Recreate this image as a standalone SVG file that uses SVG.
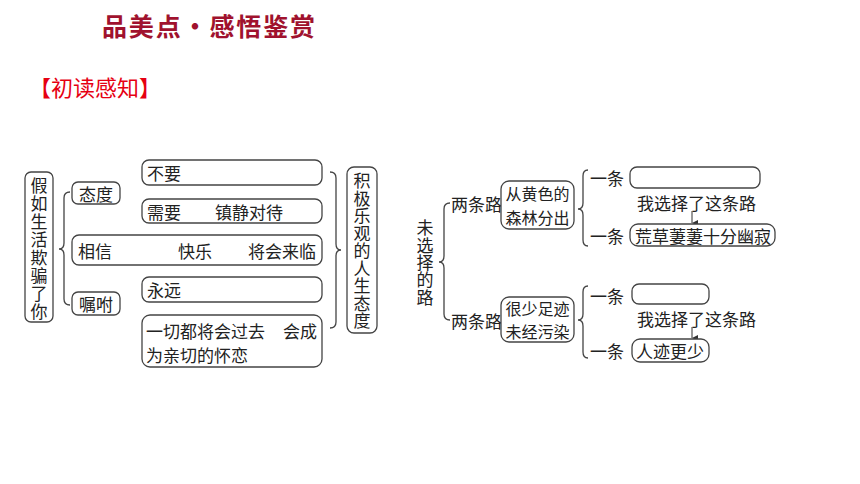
<svg xmlns="http://www.w3.org/2000/svg" width="860" height="484" viewBox="0 0 860 484">
<defs>
<style>
.t{font-family:"Noto Sans CJK SC","Liberation Sans",sans-serif;font-size:17px;fill:#222;dominant-baseline:central}
.s{font-size:16px}
.tm{text-anchor:middle}
.v{writing-mode:vertical-rl;text-anchor:start}
.b{fill:#fff;stroke:#444;stroke-width:1.3}
.c{fill:none;stroke:#444;stroke-width:1.3}
</style>
<marker id="ah" viewBox="0 0 6 6" refX="3" refY="6" markerWidth="6" markerHeight="6" orient="auto-start-reverse" markerUnits="userSpaceOnUse">
<path d="M0,0 L6,0 L3,6 Z" fill="#333"/>
</marker>
</defs>
<rect width="860" height="484" fill="#fff"/>
<text x="102" y="36" font-family="'Noto Sans CJK SC',sans-serif" font-size="25" font-weight="bold" fill="#A0122E" textLength="213">品美点·感悟鉴赏</text>
<text x="29" y="96" font-family="'Noto Sans CJK SC',sans-serif" font-size="22" fill="#E60012">【初读感知】</text>

<g id="connectors">
<path class="c" d="M70,192 Q64,192 64,198 L64,243 Q64,249 59,249 Q64,249 64,255 L64,299 Q64,305 70,305"/>
<path class="c" d="M330,172 Q336,172 336,178 L336,244 Q336,250 341,250 Q336,250 336,256 L336,322 Q336,328 330,328"/>
<path class="c" d="M450,203 Q444,203 444,209 L444,256 Q444,262 439,262 Q444,262 444,268 L444,314 Q444,320 450,320"/>
<path class="c" d="M588,170 Q583,170 583,176 L583,203 Q583,209 578,209 Q583,209 583,215 L583,240 Q583,246 588,246"/>
<path class="c" d="M588,286 Q583,286 583,292 L583,314 Q583,320 578,320 Q583,320 583,326 L583,352 Q583,358 588,358"/>
<line x1="692" y1="211" x2="692" y2="223" stroke="#333" stroke-width="1" marker-end="url(#ah)"/>
<line x1="692" y1="327" x2="692" y2="338" stroke="#333" stroke-width="1" marker-end="url(#ah)"/>
</g>

<g id="n-jiaru">
<rect class="b" x="25" y="172" width="28" height="150" rx="6"/>
<text class="t v" x="39" y="177" letter-spacing="1">假如生活欺骗了你</text>
</g>
<g id="n-taidu"><rect class="b" x="72" y="182" width="48" height="22" rx="6"/><text class="t tm" x="96" y="193">态度</text></g>
<g id="n-xiangxin"><rect class="b" x="72" y="235" width="250" height="30" rx="7"/><text class="t" x="78" y="250">相信</text><text class="t" x="178" y="250">快乐</text><text class="t" x="248" y="250">将会来临</text></g>
<g id="n-zhufu"><rect class="b" x="72" y="292" width="48" height="23" rx="6"/><text class="t tm" x="96" y="303.5">嘱咐</text></g>
<g id="n-buyao"><rect class="b" x="142" y="160" width="180" height="25" rx="7"/><text class="t" x="147" y="172.5">不要</text></g>
<g id="n-xuyao"><rect class="b" x="142" y="199" width="180" height="24" rx="7"/><text class="t" x="147" y="211">需要</text><text class="t" x="215" y="211">镇静对待</text></g>
<g id="n-yongyuan"><rect class="b" x="142" y="277" width="180" height="25" rx="7"/><text class="t" x="147" y="289.5">永远</text></g>
<g id="n-yiqie"><rect class="b" x="142" y="315" width="180" height="52" rx="8"/><text class="t" x="146" y="330">一切都将会过去<tspan x="283">会成</tspan><tspan x="146" y="354">为亲切的怀恋</tspan></text></g>
<g id="n-jiji">
<rect class="b" x="347" y="167" width="30" height="166" rx="7"/>
<text class="t v" x="362" y="172.5" letter-spacing="0.5">积极乐观的人生态度</text>
</g>

<g id="n-weixuanze">
<text class="t v" x="425" y="219.5" letter-spacing="0.3">未选择的路</text>
</g>
<g id="n-liangtiao1"><text class="t" x="451" y="203">两条路</text></g>
<g id="n-senlin"><rect class="b" x="501" y="181" width="73" height="48" rx="8"/><text class="t s tm" x="537.5" y="193">从黄色的<tspan x="537.5" y="217">森林分出</tspan></text></g>
<g id="n-yitiao1"><text class="t" x="590" y="177">一条</text></g>
<g id="n-box1"><rect class="b" x="630" y="167" width="130" height="21" rx="7"/></g>
<g id="n-xuanze1"><text class="t" x="637" y="202">我选择了这条路</text></g>
<g id="n-yitiao2"><text class="t" x="590" y="235">一条</text></g>
<g id="n-huangcao"><rect class="b" x="630" y="224" width="145" height="22" rx="8"/><text class="t" x="635" y="235">荒草萋萋十分幽寂</text></g>
<g id="n-liangtiao2"><text class="t" x="451" y="320">两条路</text></g>
<g id="n-henshao"><rect class="b" x="501" y="297" width="73" height="45" rx="8"/><text class="t s tm" x="537.5" y="308">很少足迹<tspan x="537.5" y="331">未经污染</tspan></text></g>
<g id="n-yitiao3"><text class="t" x="590" y="295">一条</text></g>
<g id="n-box2"><rect class="b" x="632" y="284" width="77" height="20" rx="7"/></g>
<g id="n-xuanze2"><text class="t" x="637" y="318">我选择了这条路</text></g>
<g id="n-yitiao4"><text class="t" x="590" y="350">一条</text></g>
<g id="n-renji"><rect class="b" x="632" y="339" width="77" height="23" rx="8"/><text class="t" x="636" y="350.5">人迹更少</text></g>
</svg>
